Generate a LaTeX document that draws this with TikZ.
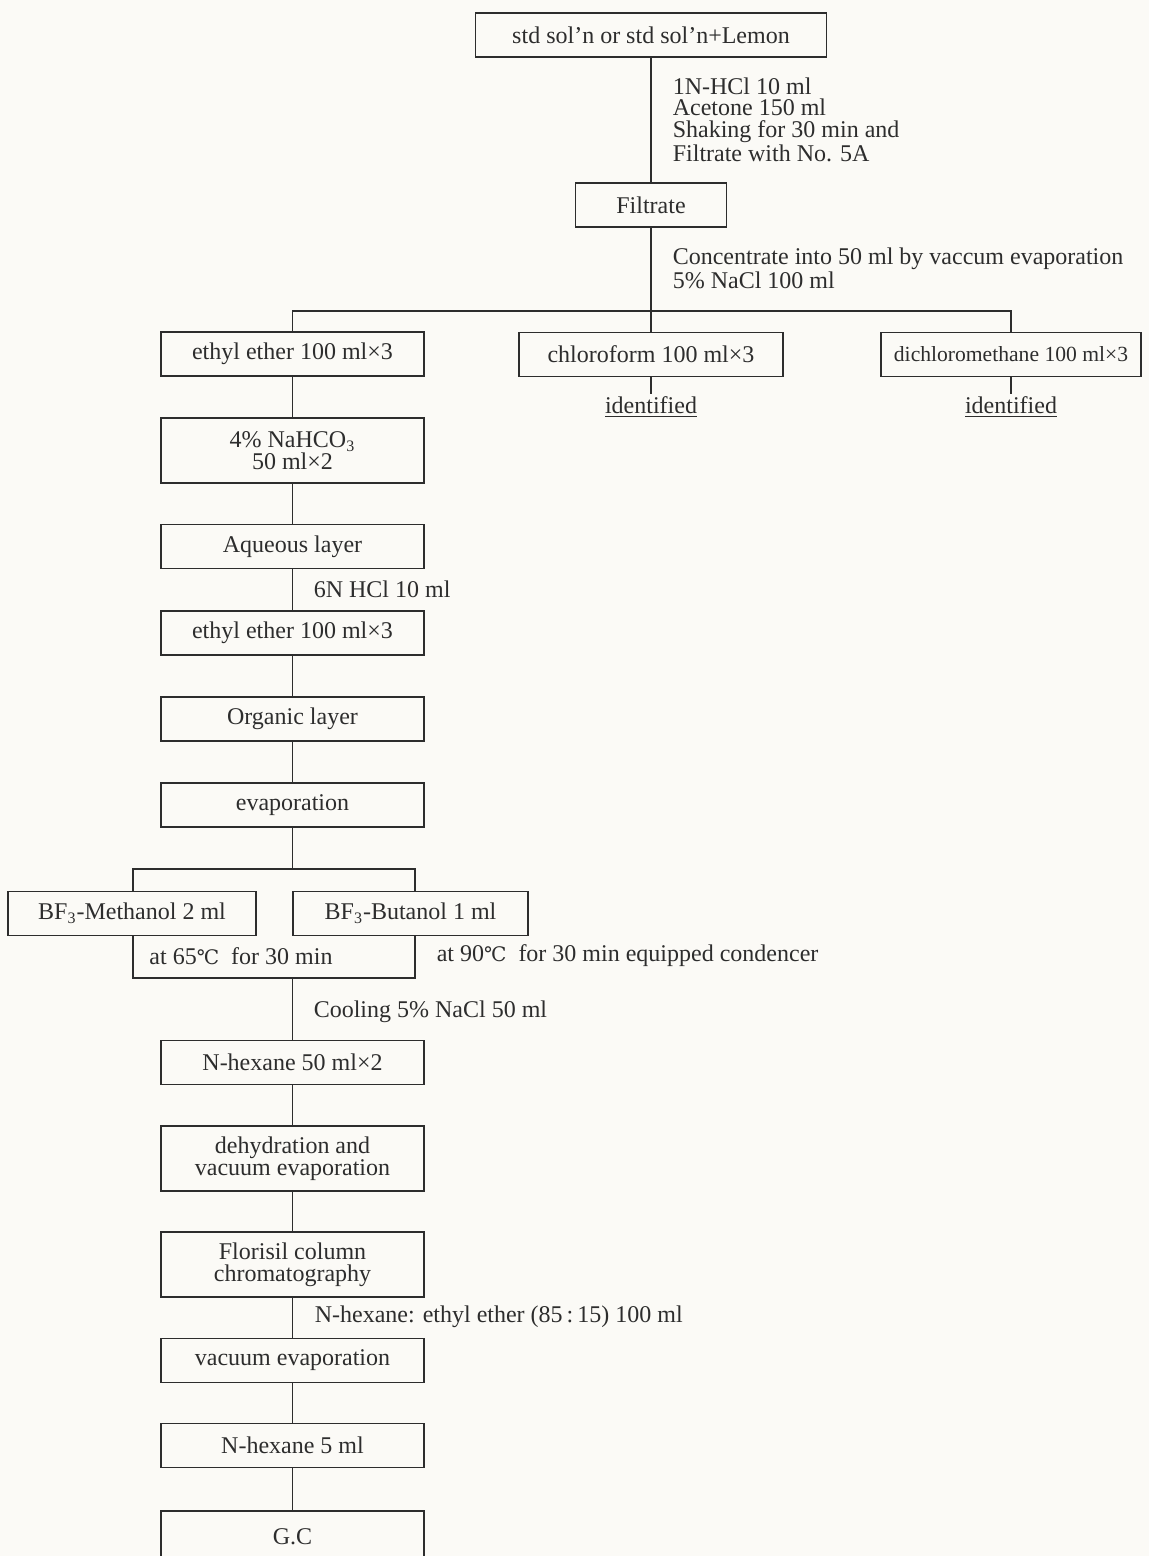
\documentclass[tikz,border=0pt]{standalone}
\usepackage{fontspec}
\setmainfont{Liberation Serif}
\newfontfamily\symfont{DejaVu Serif}
\usetikzlibrary{positioning}
\definecolor{ink}{RGB}{45,45,45}
\definecolor{paper}{RGB}{251,250,246}
\newcommand{\degC}{{\symfont\fontsize{10}{10}\selectfont ℃}}
\tikzset{
    procbox/.style={draw=ink, text=ink, minimum width=131.5pt, minimum height=22pt,
        inner sep=0pt, align=center},
    tallbox/.style={procbox, minimum height=32.5pt},
    note/.style={text=ink, anchor=west, inner sep=0pt, align=left},
    result/.style={text=ink, inner sep=1pt},
    flowline/.style={draw=ink},
}

\begin{document}
\begin{tikzpicture}[x=0.5pt, y=-0.5pt, line width=0.8pt,
    every node/.style={font=\fontsize{12}{10.8}\selectfont}]
\useasboundingbox[fill=paper] (0,0) rectangle (1149,1556);
% extraction of the sample
\node[procbox, minimum width=175.5pt] (src) at (651,35) {std sol'n or std sol'n+Lemon};
\node[note] (extract) at (672,119.5) {1N-HCl 10 ml\\Acetone 150 ml\\Shaking for 30 min and\\Filtrate with No. 5A};
\node[procbox, minimum width=75.5pt] (filt) at (651,205) {Filtrate};
\node[note] (conc) at (672,268.5) {Concentrate into 50 ml by vaccum evaporation\\5\% NaCl 100 ml};
\coordinate (split) at (651,311);
\node[procbox] (ether1) at (292.5,354) {ethyl ether 100 ml×3};
\node[procbox, minimum width=132pt] (chl) at (651,354.5) {chloroform 100 ml×3};
\node[procbox, minimum width=130pt, font=\fontsize{10.8}{10.8}\selectfont] (dcm) at (1011,354.5) {dichloromethane 100 ml×3};
\node[result] (id1) at (651,407) {\underline{identified}};
\node[result] (id2) at (1011,407) {\underline{identified}};
\draw[flowline] (src) -- (filt);
\draw[flowline] (filt) -- (chl);
\draw[flowline] (ether1) |- (split) -| (dcm);
\draw[flowline] (chl) -- (id1);
\draw[flowline] (dcm) -- (id2);
% ethyl ether partition
\node[tallbox] (nahco) at (292.5,450.5) {4\% NaHCO\textsubscript{3}\\50 ml×2};
\node[procbox] (aq) at (292.5,546.5) {Aqueous layer};
\node[note] (acid) at (313,589) {6N HCl 10 ml};
\node[procbox] (ether2) at (292.5,633) {ethyl ether 100 ml×3};
\node[procbox] (org) at (292.5,719) {Organic layer};
\node[procbox] (evap) at (292.5,805) {evaporation};
\draw[flowline] (ether1) -- (nahco) -- (aq) -- (ether2) -- (org) -- (evap);
% methylation / butylation
\coordinate (fTop) at (292.5,869);
\coordinate (fTL) at (133,869);
\coordinate (fTR) at (415,869);
\coordinate (fBL) at (133,978);
\coordinate (fBR) at (415,978);
\coordinate (fBot) at (292.5,978);
\node[procbox, minimum width=124pt] (meth) at (132,913.5) {BF\textsubscript{3}-Methanol 2 ml};
\node[procbox, minimum width=117.5pt] (buta) at (410.5,913.5) {BF\textsubscript{3}-Butanol 1 ml};
\node[text=ink, inner sep=0pt] (t65) at (241,956) {at 65\degC\ \ for 30 min};
\node[note] (t90) at (436,956) {at 90\degC\ \ for 30 min equipped condencer};
\draw[flowline] (evap) -- (fTop);
\draw[flowline] (meth.north -| fTL) -- (fTL) -- (fTR) -- (buta.north -| fTR);
\draw[flowline] (meth.south -| fTL) -- (fBL) -- (fBR) -- (buta.south -| fTR);
% clean-up
\node[note] (cool) at (313,1012) {Cooling 5\% NaCl 50 ml};
\node[procbox] (hex1) at (292.5,1062.5) {N-hexane 50 ml×2};
\node[tallbox] (dehy) at (292.5,1158.5) {dehydration and\\vacuum evaporation};
\node[tallbox] (flor) at (292.5,1264.5) {Florisil column\\chromatography};
\node[note] (elute) at (314,1317) {N-hexane: ethyl ether (85\,:\,15) 100 ml};
\node[procbox] (vac) at (292.5,1360.5) {vacuum evaporation};
\node[procbox] (hex5) at (292.5,1445.5) {N-hexane 5 ml};
\node[procbox, minimum height=26pt] (gc) at (292.5,1537) {G.C};
\draw[flowline] (fBot) -- (hex1);
\draw[flowline] (hex1) -- (dehy) -- (flor) -- (vac) -- (hex5) -- (gc);
\end{tikzpicture}
\end{document}
